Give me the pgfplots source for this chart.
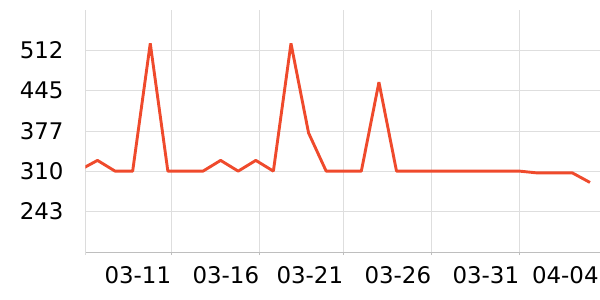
\documentclass[border=0pt]{standalone}
\usepackage{fontspec}
\setmainfont{DejaVu Sans}
\usepackage{pgfplots}
\pgfplotsset{compat=1.18}
\definecolor{linered}{RGB}{239,74,44}
\definecolor{gridc}{RGB}{222,222,222}
\definecolor{axisc}{RGB}{190,190,190}
\definecolor{axisl}{RGB}{220,220,220}
\begin{document}
\begin{tikzpicture}
\path[use as bounding box] (0,0) rectangle (600pt,300pt);
\begin{axis}[
  at={(85.3pt,47.7pt)}, anchor=south west,
  scale only axis, width=514.7pt, height=242.3pt,
  xmin=0.307, xmax=29.568, ymin=174, ymax=580,
  clip=true,
  axis lines=left,
  axis line style={-},
  x axis line style={draw=axisc, line width=1pt},
  y axis line style={draw=axisl, line width=1pt, shorten <=-2.4pt},
  xtick={5.196,10.198,14.974,19.977,24.98},
  xticklabels={03-11,03-16,03-21,03-26,03-31},
  extra x ticks={29.5},
  extra x tick labels={04-04},
  extra x tick style={grid=none, xtick style={draw=none}},
  ytick={243,310,377,445,512},
  yticklabels={243,310,377,445,512},
  xmajorgrids, ymajorgrids,
  major grid style={draw=gridc, line width=1pt},
  tick align=outside,
  xtick style={draw=axisc, line width=1pt},
  major tick length=2.7pt,
  ytick style={draw=none},
  /pgf/number format/assume math mode=true,
  tick label style={font=\fontsize{22.9pt}{27pt}\selectfont},
  xticklabel style={anchor=north east, inner sep=0pt, yshift=-11.7pt},
  yticklabel style={anchor=east, inner sep=0pt, xshift=-18.9pt},
]
\addplot[linered, line width=2.9pt, line join=bevel, no marks] coordinates {
(0,312) (1,328) (2,310) (3,310) (4,524) (5,310) (6,310) (7,310) (8,328) (9,310)
(10,328) (11,310) (12,524) (13,374) (14,310) (15,310) (16,310) (17,459) (18,310) (19,310)
(20,310) (21,310) (22,310) (23,310) (24,310) (25,310) (26,307) (27,307) (28,307) (29,291)
};
\end{axis}
\end{tikzpicture}
\end{document}
